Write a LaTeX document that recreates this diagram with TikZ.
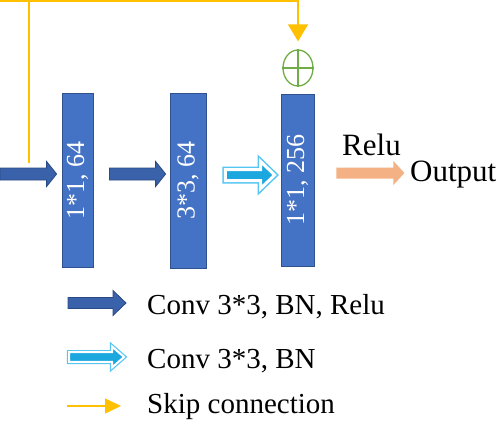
\documentclass[tikz,border=0pt]{standalone}
\usepackage{fontspec}
\usepackage{graphicx}
\setmainfont{Liberation Serif}
\usetikzlibrary{arrows.meta,calc,shapes.geometric}
\definecolor{boxblue}{HTML}{4472C4}
\definecolor{boxline}{HTML}{2F528F}
\definecolor{arrblue}{HTML}{3A62AA}
\definecolor{arrline}{HTML}{2A4A85}
\definecolor{cyanfill}{HTML}{1CA8DF}
\definecolor{cyanline}{HTML}{55C5F2}
\definecolor{skipc}{HTML}{FFC000}
\definecolor{sumc}{HTML}{70AD47}
\definecolor{reluc}{HTML}{F4B183}
% style, from, to, shaft half, head half, head length
\newcommand\blockarr[6]{%
  \path[#1] let \p1=(#2),\p2=(#3) in
    (\x1,\y1+#4) -- (\x2-#6,\y1+#4) -- (\x2-#6,\y1+#5) -- (\x2,\y1)
    -- (\x2-#6,\y1-#5) -- (\x2-#6,\y1-#4) -- (\x1,\y1-#4) -- cycle;}
\begin{document}
\begin{tikzpicture}[x=1pt,y=-1pt,
  layer/.style={draw=boxline,fill=boxblue,line width=0.8pt,inner sep=0pt,
    text=white,font=\fontsize{26}{28}\selectfont},
  bluearr/.style={fill=arrblue,draw=arrline,line width=0.8pt},
  cyanouter/.style={draw=cyanline,line width=6pt},
  cyaninner/.style={draw=white,fill=cyanfill,line width=3pt},
  reluarr/.style={fill=reluc},
  skip/.style={draw=skipc,line width=1.5pt},
  lbl/.style={anchor=base west,inner sep=0pt,font=\fontsize{31}{33}\selectfont},
  legtxt/.style={anchor=base west,inner sep=0pt,font=\fontsize{29}{31}\selectfont}]
\useasboundingbox (0,0) rectangle (500,425);

% layers
\node[layer,minimum width=31pt,minimum height=174pt] (box1) at (77.5,180) {\rotatebox{90}{1*1, 64}};
\node[layer,minimum width=36pt,minimum height=175pt] (box2) at (188,180.5) {\rotatebox{90}{3*3, 64}};
\node[layer,minimum width=33pt,minimum height=172pt] (box3) at (297.5,180) {\rotatebox{90}{1*1, 256}};

% sum
\node[draw=sumc,line width=1.3pt,ellipse,minimum width=30pt,minimum height=36pt,inner sep=0pt] (sum) at (298,68) {};
\draw[sumc,line width=1.3pt] (sum.north) -- (sum.south) (sum.west) -- (sum.east);

% arrow coordinates
\coordinate (ins) at (0,174);
\coordinate (a1e) at ($(box1.west |- ins)+(-5,0)$);
\coordinate (a2s) at ($(box1.east |- ins)+(16,0)$);
\coordinate (a2e) at ($(box2.west |- ins)+(-4,0)$);
\coordinate (a3s) at ($(box2.east |- ins)+(19,1)$);
\coordinate (a3e) at ($(box3.west |- ins)+(-6,1)$);
\coordinate (rs) at ($(box3.east)+(22,-7)$);
\coordinate (re) at ($(box3.east)+(90,-7)$);

\blockarr{bluearr}{ins}{a1e}{6pt}{12.5pt}{10pt}
\blockarr{bluearr}{a2s}{a2e}{6pt}{12.5pt}{10pt}
\blockarr{cyanouter}{a3s}{a3e}{5.5pt}{13.5pt}{14pt}
\blockarr{cyaninner}{a3s}{a3e}{5.5pt}{13.5pt}{14pt}
\blockarr{reluarr}{rs}{re}{5.5pt}{12pt}{11pt}

% skip connection
\coordinate (skips) at (29,163);
\draw[skip,-{Triangle[width=20pt,length=17pt]},shorten >=8pt] (skips) |- (0,1) -| (sum.north);

% relu / output labels
\node[lbl] (relu) at (342,155) {Relu};
\node[lbl] (output) at (410,181) {Output};

% legend
\coordinate (l1s) at (68,303);
\coordinate (l1e) at (126,303);
\coordinate (l2s) at (69,357);
\coordinate (l2e) at (124,357);
\coordinate (l3s) at (67,406);
\coordinate (l3e) at (121,406);
\blockarr{bluearr}{l1s}{l1e}{5.5pt}{12.5pt}{13pt}
\blockarr{draw=cyanline,line width=4.4pt}{l2s}{l2e}{4.8pt}{10.5pt}{12pt}
\blockarr{draw=white,fill=cyanfill,line width=2pt}{l2s}{l2e}{4.8pt}{10.5pt}{12pt}
\draw[skip,-{Triangle[width=15pt,length=16pt]}] (l3s) -- (l3e);
\node[legtxt] (t1) at (147,314) {Conv 3*3, BN, Relu};
\node[legtxt] (t2) at (147,368) {Conv 3*3, BN};
\node[legtxt] (t3) at (147,413) {Skip connection};
\end{tikzpicture}
\end{document}
